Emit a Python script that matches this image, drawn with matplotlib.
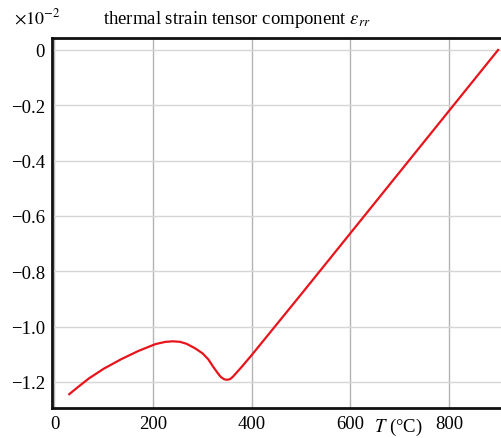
import matplotlib
matplotlib.use("Agg")
import matplotlib.pyplot as plt

# Temperature (°C) and radial thermal strain (×10^-2)
temperature = [30, 50, 70, 100, 135, 170, 205, 225, 240, 255, 268, 285, 300,
               312, 322, 330, 337, 344, 350, 356, 362, 370, 380, 400, 500,
               600, 700, 800, 900]
strain_rr = [-1.244, -1.215, -1.187, -1.152, -1.118, -1.088, -1.063, -1.055,
             -1.053, -1.055, -1.062, -1.078, -1.096, -1.118, -1.145, -1.165,
             -1.181, -1.190, -1.192, -1.190, -1.181, -1.165, -1.145, -1.103,
             -0.884, -0.663, -0.442, -0.221, 0.0]

x_ticks = [0, 200, 400, 600, 800]
y_ticks = [0, -0.2, -0.4, -0.6, -0.8, -1.0, -1.2]
y_tick_labels = ["0", "\u22120.2", "\u22120.4", "\u22120.6", "\u22120.8",
                 "\u22121.0", "\u22121.2"]

plt.rcParams["font.family"] = ["Liberation Serif", "DejaVu Serif"]
plt.rcParams["mathtext.fontset"] = "stix"

W, H = 502, 439
fig = plt.figure(figsize=(W / 100, H / 100), dpi=100)
left, right, top, bottom = 52, 506, 38.5, 409
ax = fig.add_axes([left / W, 1 - bottom / H, (right - left) / W, (bottom - top) / H])

ax.plot(temperature, strain_rr, color="#e8141c", lw=1.6, zorder=3,
        solid_joinstyle="round")

ax.set_xlim(-5, 916)
ax.set_ylim(-1.294, 0.045)
ax.set_xticks(x_ticks)
ax.set_yticks(y_ticks)
ax.set_yticklabels(y_tick_labels)
ax.tick_params(length=0, labelsize=13.5, pad=5)

for x in x_ticks:
    ax.axvline(x, color="#b4b4b4", lw=1.0, zorder=1)
for y in y_ticks:
    ax.axhline(y, color="#d6d6d6", lw=1.0, zorder=1)

for s in ["left", "top", "bottom"]:
    ax.spines[s].set_linewidth(2.0)
    ax.spines[s].set_color("#111111")
ax.spines["right"].set_visible(False)

fig.text(237 / W, 1 - 20 / H, r"thermal strain tensor component $\varepsilon_{rr}$",
         ha="center", va="center", fontsize=13.5)
fig.text(14 / W, 1 - 18 / H, r"$\times 10^{-2}$", ha="left", va="center", fontsize=13)
fig.text(398 / W, 1 - 427 / H, r"$T$ (°C)", ha="center", va="center", fontsize=13.5)

fig.savefig("out.png", dpi=100)
